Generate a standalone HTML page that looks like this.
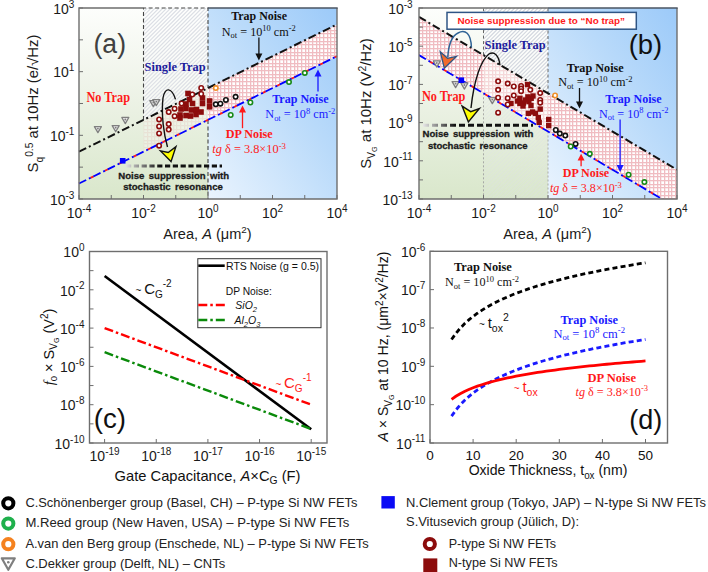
<!DOCTYPE html><html><head><meta charset="utf-8"><title>Noise figure</title>
<style>html,body{margin:0;padding:0;background:#fff;width:708px;height:572px;overflow:hidden}svg{display:block}</style></head><body>
<svg width="708" height="572" viewBox="0 0 708 572">
<defs>
<linearGradient id="gA" x1="0" y1="0" x2="0" y2="1"><stop offset="0" stop-color="#fdfefc"/><stop offset="0.35" stop-color="#f1f5ec"/><stop offset="1" stop-color="#d9e7cb"/></linearGradient>
<linearGradient id="gB" x1="0" y1="1" x2="1" y2="0"><stop offset="0" stop-color="#eaf4fe"/><stop offset="0.6" stop-color="#b9dafa"/><stop offset="1" stop-color="#9ccaf9"/></linearGradient>
<pattern id="pk" width="11" height="11" patternUnits="userSpaceOnUse"><rect width="11" height="11" fill="#fff"/><rect x="1" y="0" width="0.6" height="11" fill="#f8dcdf"/><rect x="0" y="1" width="11" height="0.6" fill="#f8dcdf"/><rect x="5" y="0" width="0.6" height="11" fill="#f8dcdf"/><rect x="0" y="5" width="11" height="0.6" fill="#f8dcdf"/><rect x="9" y="0" width="0.6" height="11" fill="#f8dcdf"/><rect x="0" y="9" width="11" height="0.6" fill="#f8dcdf"/><rect x="0" y="0" width="1" height="11" fill="#f0bcc1"/><rect x="0" y="0" width="11" height="1" fill="#f0bcc1"/><rect x="4" y="0" width="1" height="11" fill="#f0bcc1"/><rect x="0" y="4" width="11" height="1" fill="#f0bcc1"/><rect x="8" y="0" width="1" height="11" fill="#f0bcc1"/><rect x="0" y="8" width="11" height="1" fill="#f0bcc1"/></pattern>
</defs>
<rect x="79" y="8" width="129" height="191" fill="url(#gA)"/>
<rect x="208" y="8" width="129" height="191" fill="url(#gB)"/>
<polygon points="208,88.05 337,24.39 337,56.22 208,119.88" fill="url(#pk)"/>
<polygon points="143.5,119.88 208,88.05 208,119.88 143.5,151.71" fill="url(#pk)" opacity="0.25"/>
<polygon points="143.5,8 208,8 208,88.05 143.5,119.88" fill="#fff" fill-opacity="0.6"/>
<clipPath id="ca1"><polygon points="143.5,8 208,8 208,88.05 143.5,119.88"/></clipPath>
<path d="M-47.5,199 L143.5,8 M-43.6,199 L147.4,8 M-39.7,199 L151.3,8 M-35.8,199 L155.2,8 M-31.9,199 L159.1,8 M-28,199 L163,8 M-24.1,199 L166.9,8 M-20.2,199 L170.8,8 M-16.3,199 L174.7,8 M-12.4,199 L178.6,8 M-8.5,199 L182.5,8 M-4.6,199 L186.4,8 M-0.7,199 L190.3,8 M3.2,199 L194.2,8 M7.1,199 L198.1,8 M11,199 L202,8 M14.9,199 L205.9,8 M18.8,199 L209.8,8 M22.7,199 L213.7,8 M26.6,199 L217.6,8 M30.5,199 L221.5,8 M34.4,199 L225.4,8 M38.3,199 L229.3,8 M42.2,199 L233.2,8 M46.1,199 L237.1,8 M50,199 L241,8 M53.9,199 L244.9,8 M57.8,199 L248.8,8 M61.7,199 L252.7,8 M65.6,199 L256.6,8 M69.5,199 L260.5,8 M73.4,199 L264.4,8 M77.3,199 L268.3,8 M81.2,199 L272.2,8 M85.1,199 L276.1,8 M89,199 L280,8 M92.9,199 L283.9,8 M96.8,199 L287.8,8 M100.7,199 L291.7,8 M104.6,199 L295.6,8 M108.5,199 L299.5,8 M112.4,199 L303.4,8 M116.3,199 L307.3,8 M120.2,199 L311.2,8 M124.1,199 L315.1,8 M128,199 L319,8 M131.9,199 L322.9,8 M135.8,199 L326.8,8 M139.7,199 L330.7,8 M143.6,199 L334.6,8 M147.5,199 L338.5,8 M151.4,199 L342.4,8 M155.3,199 L346.3,8 M159.2,199 L350.2,8 M163.1,199 L354.1,8 M167,199 L358,8 M170.9,199 L361.9,8 M174.8,199 L365.8,8 M178.7,199 L369.7,8 M182.6,199 L373.6,8 M186.5,199 L377.5,8 M190.4,199 L381.4,8 M194.3,199 L385.3,8 M198.2,199 L389.2,8 M202.1,199 L393.1,8 M206,199 L397,8" stroke="#dcdfe5" stroke-width="1.15" fill="none" clip-path="url(#ca1)" opacity="1"/>
<path d="M143.5,119.88 V8 H208 V88.05 M208,119.88 V199" fill="none" stroke="#444" stroke-width="1.1" stroke-dasharray="4,2.5"/>
<line x1="79" y1="151.71" x2="337" y2="24.39" stroke="#111" stroke-width="2" stroke-dasharray="8,3,2,3"/>
<line x1="79" y1="183.54" x2="337" y2="56.22" stroke="#ff1a1a" stroke-width="1.8" stroke-dasharray="3.5,12.5" stroke-dashoffset="3.2"/>
<line x1="79" y1="183.54" x2="337" y2="56.22" stroke="#0000ff" stroke-width="1.8" stroke-dasharray="8,3,2,3"/>
<polygon points="94.4,126.57 101.4,126.57 97.9,132.66" fill="#e6e6e6" stroke="#7f7f7f" stroke-width="1.3" stroke-linejoin="round"/>
<circle cx="97.9" cy="128.6" r="0.9" fill="#7f7f7f"/>
<polygon points="112.2,125.67 119.2,125.67 115.7,131.76" fill="#e6e6e6" stroke="#7f7f7f" stroke-width="1.3" stroke-linejoin="round"/>
<circle cx="115.7" cy="127.7" r="0.9" fill="#7f7f7f"/>
<polygon points="121.8,117.47 128.8,117.47 125.3,123.56" fill="#e6e6e6" stroke="#7f7f7f" stroke-width="1.3" stroke-linejoin="round"/>
<circle cx="125.3" cy="119.5" r="0.9" fill="#7f7f7f"/>
<polygon points="149.8,100.57 156.8,100.57 153.3,106.66" fill="#e6e6e6" stroke="#7f7f7f" stroke-width="1.3" stroke-linejoin="round"/>
<circle cx="153.3" cy="102.6" r="0.9" fill="#7f7f7f"/>
<polygon points="152.8,99.57 159.8,99.57 156.3,105.66" fill="#e6e6e6" stroke="#7f7f7f" stroke-width="1.3" stroke-linejoin="round"/>
<circle cx="156.3" cy="101.6" r="0.9" fill="#7f7f7f"/>
<rect x="119.9" y="158" width="5.6" height="5.6" fill="#0000ff"/>
<rect x="185.2" y="90.7" width="5.6" height="5.6" fill="#8c0c0c"/>
<rect x="186.7" y="96.7" width="5.6" height="5.6" fill="#8c0c0c"/>
<rect x="189.7" y="100.7" width="5.6" height="5.6" fill="#8c0c0c"/>
<rect x="183.2" y="101.2" width="5.6" height="5.6" fill="#8c0c0c"/>
<rect x="178.2" y="106.2" width="5.6" height="5.6" fill="#8c0c0c"/>
<rect x="183.2" y="105.7" width="5.6" height="5.6" fill="#8c0c0c"/>
<rect x="188.7" y="107.2" width="5.6" height="5.6" fill="#8c0c0c"/>
<rect x="193.7" y="106.7" width="5.6" height="5.6" fill="#8c0c0c"/>
<rect x="198.2" y="109.2" width="5.6" height="5.6" fill="#8c0c0c"/>
<rect x="177.2" y="112.2" width="5.6" height="5.6" fill="#8c0c0c"/>
<rect x="177.2" y="115.2" width="5.6" height="5.6" fill="#8c0c0c"/>
<rect x="183.2" y="112.7" width="5.6" height="5.6" fill="#8c0c0c"/>
<rect x="187.7" y="113.2" width="5.6" height="5.6" fill="#8c0c0c"/>
<rect x="193.2" y="111.7" width="5.6" height="5.6" fill="#8c0c0c"/>
<rect x="199.7" y="95.2" width="5.6" height="5.6" fill="#8c0c0c"/>
<rect x="199.7" y="100.7" width="5.6" height="5.6" fill="#8c0c0c"/>
<rect x="206.8" y="98.2" width="5.6" height="5.6" fill="#8c0c0c"/>
<rect x="206.8" y="104" width="5.6" height="5.6" fill="#8c0c0c"/>
<circle cx="159.1" cy="119.4" r="2.2" fill="#fff" stroke="#8c0c0c" stroke-width="1.6"/>
<circle cx="159.1" cy="126.4" r="2.2" fill="#fff" stroke="#8c0c0c" stroke-width="1.6"/>
<circle cx="159.1" cy="133.4" r="2.2" fill="#fff" stroke="#8c0c0c" stroke-width="1.6"/>
<circle cx="159.1" cy="145.7" r="2.2" fill="#fff" stroke="#8c0c0c" stroke-width="1.6"/>
<circle cx="168.7" cy="112.1" r="2.2" fill="#fff" stroke="#8c0c0c" stroke-width="1.6"/>
<circle cx="168.7" cy="124.1" r="2.2" fill="#fff" stroke="#8c0c0c" stroke-width="1.6"/>
<circle cx="168.7" cy="129.6" r="2.2" fill="#fff" stroke="#8c0c0c" stroke-width="1.6"/>
<circle cx="174.6" cy="108.7" r="2.2" fill="#fff" stroke="#8c0c0c" stroke-width="1.6"/>
<circle cx="174.6" cy="116.2" r="2.2" fill="#fff" stroke="#8c0c0c" stroke-width="1.6"/>
<circle cx="181.6" cy="103.5" r="2.2" fill="#fff" stroke="#8c0c0c" stroke-width="1.6"/>
<circle cx="192.3" cy="94.5" r="2.2" fill="#fff" stroke="#8c0c0c" stroke-width="1.6"/>
<circle cx="201.2" cy="87.9" r="2.2" fill="#fff" stroke="#8c0c0c" stroke-width="1.6"/>
<circle cx="201.2" cy="94" r="2.2" fill="#fff" stroke="#8c0c0c" stroke-width="1.6"/>
<circle cx="215.8" cy="88.1" r="2.2" fill="#fff" stroke="#f0922c" stroke-width="1.6"/>
<circle cx="215.8" cy="104.3" r="2.2" fill="#fff" stroke="#111" stroke-width="1.6"/>
<circle cx="220.4" cy="103.7" r="2.2" fill="#fff" stroke="#111" stroke-width="1.6"/>
<circle cx="225.9" cy="99.9" r="2.2" fill="#fff" stroke="#111" stroke-width="1.6"/>
<circle cx="235.6" cy="96.8" r="2.2" fill="#fff" stroke="#111" stroke-width="1.6"/>
<circle cx="230.7" cy="115" r="2.2" fill="#fff" stroke="#178a17" stroke-width="1.6"/>
<circle cx="250.4" cy="102.5" r="2.2" fill="#fff" stroke="#178a17" stroke-width="1.6"/>
<circle cx="289" cy="82.1" r="2.2" fill="#fff" stroke="#178a17" stroke-width="1.6"/>
<circle cx="304.8" cy="72.9" r="2.2" fill="#fff" stroke="#178a17" stroke-width="1.6"/>
<linearGradient id="gd" x1="125" y1="0" x2="160" y2="0" gradientUnits="userSpaceOnUse"><stop offset="0" stop-color="#e8e8e8"/><stop offset="1" stop-color="#111"/></linearGradient>
<line x1="126" y1="166" x2="222" y2="166" stroke="url(#gd)" stroke-width="2.9" stroke-dasharray="5.2,2.6"/>
<path d="M175.5,99.4 C172,88 165,86 163,98 C161,115 164,135 167.5,147" fill="none" stroke="#111" stroke-width="1.4"/>
<path d="M171,161.6 L160.5,150.9 L168.2,152.5 L175.9,146.7 Z" fill="#ffff00" stroke="#111" stroke-width="1.4" stroke-linejoin="miter"/>
<text x="93.5" y="53.2" font-family='"Liberation Sans", sans-serif' font-size="27" font-weight="normal" font-style="normal" fill="#404040" text-anchor="start" textLength="32.5" lengthAdjust="spacingAndGlyphs" >(a)</text>
<text x="144.6" y="71.2" font-family='"Liberation Serif", serif' font-size="12.5" font-weight="bold" font-style="normal" fill="#1c1c9c" text-anchor="start" textLength="61" lengthAdjust="spacingAndGlyphs" >Single Trap</text>
<text x="86.5" y="101.6" font-family='"Liberation Serif", serif' font-size="14.5" font-weight="bold" font-style="normal" fill="#ff1a1a" text-anchor="start" textLength="43.5" lengthAdjust="spacingAndGlyphs" >No Trap</text>
<text x="231.2" y="19.8" font-family='"Liberation Serif", serif' font-size="12.5" font-weight="bold" font-style="normal" fill="#111" text-anchor="start" textLength="55.8" lengthAdjust="spacingAndGlyphs" >Trap Noise</text>
<text x="221.8" y="35.6" font-family='"Liberation Serif", serif' font-size="13" font-weight="normal" font-style="normal" fill="#111" text-anchor="start" textLength="74" lengthAdjust="spacingAndGlyphs" >N<tspan font-size="9" dy="2.5">ot</tspan><tspan dy="-2.5"> = 10</tspan><tspan font-size="9" dy="-4.5">10</tspan><tspan dy="4.5"> cm</tspan><tspan font-size="9" dy="-4.5">-2</tspan></text>
<line x1="258.9" y1="37.6" x2="258.9" y2="55" stroke="#111" stroke-width="1.3" />
<path d="M255.4,53.5 L258.9,60.5 L262.4,53.5 Z" fill="#111"/>
<text x="272.2" y="103.1" font-family='"Liberation Serif", serif' font-size="12.5" font-weight="bold" font-style="normal" fill="#1a1aff" text-anchor="start" textLength="56.3" lengthAdjust="spacingAndGlyphs" >Trap Noise</text>
<text x="265.3" y="118.3" font-family='"Liberation Serif", serif' font-size="13" font-weight="normal" font-style="normal" fill="#1a1aff" text-anchor="start" textLength="70" lengthAdjust="spacingAndGlyphs" >N<tspan font-size="9" dy="2.5">ot</tspan><tspan dy="-2.5"> = 10</tspan><tspan font-size="9" dy="-4.5">8</tspan><tspan dy="4.5"> cm</tspan><tspan font-size="9" dy="-4.5">-2</tspan></text>
<line x1="318" y1="91.6" x2="318" y2="75" stroke="#1a1aff" stroke-width="1.3" />
<path d="M314.5,76.5 L318,69.5 L321.5,76.5 Z" fill="#1a1aff"/>
<text x="225.7" y="138.1" font-family='"Liberation Serif", serif' font-size="12.5" font-weight="bold" font-style="normal" fill="#ff1a1a" text-anchor="start" textLength="47" lengthAdjust="spacingAndGlyphs" >DP Noise</text>
<text x="212.3" y="153" font-family='"Liberation Serif", serif' font-size="12" font-weight="normal" font-style="normal" fill="#ff1a1a" text-anchor="start" textLength="73.7" lengthAdjust="spacingAndGlyphs" ><tspan font-style="italic">tg</tspan> δ = 3.8×10<tspan font-size="8.5" dy="-4.5">-3</tspan></text>
<line x1="242.5" y1="128.2" x2="242.5" y2="111" stroke="#ff1a1a" stroke-width="1.3" />
<path d="M239,112.5 L242.5,105.5 L246,112.5 Z" fill="#ff1a1a"/>
<text x="118.3" y="178.9" font-family='"Liberation Sans", sans-serif' font-size="9.6" font-weight="bold" font-style="normal" fill="#1a1a1a" text-anchor="start" word-spacing="1.6" stroke="#1a1a1a" stroke-width="0.3">Noise suppression with</text>
<text x="123.2" y="190.3" font-family='"Liberation Sans", sans-serif' font-size="9.6" font-weight="bold" font-style="normal" fill="#1a1a1a" text-anchor="start" word-spacing="1.6" stroke="#1a1a1a" stroke-width="0.3">stochastic resonance</text>
<path d="M143.5,8 H79 V199 H337 V8" fill="none" stroke="#6e6e6e" stroke-width="1.4"/>
<line x1="208" y1="8" x2="337.7" y2="8" stroke="#4a5562" stroke-width="1.5"/>
<line x1="79" y1="198.98" x2="83" y2="198.98" stroke="#6e6e6e" stroke-width="1" />
<line x1="79" y1="167.15" x2="83" y2="167.15" stroke="#6e6e6e" stroke-width="1" />
<line x1="79" y1="135.32" x2="83" y2="135.32" stroke="#6e6e6e" stroke-width="1" />
<line x1="79" y1="103.49" x2="83" y2="103.49" stroke="#6e6e6e" stroke-width="1" />
<line x1="79" y1="71.66" x2="83" y2="71.66" stroke="#6e6e6e" stroke-width="1" />
<line x1="79" y1="39.83" x2="83" y2="39.83" stroke="#6e6e6e" stroke-width="1" />
<line x1="79" y1="8" x2="83" y2="8" stroke="#6e6e6e" stroke-width="1" />
<line x1="79" y1="199" x2="79" y2="195" stroke="#6e6e6e" stroke-width="1" />
<line x1="111.25" y1="199" x2="111.25" y2="195" stroke="#6e6e6e" stroke-width="1" />
<line x1="143.5" y1="199" x2="143.5" y2="195" stroke="#6e6e6e" stroke-width="1" />
<line x1="175.75" y1="199" x2="175.75" y2="195" stroke="#6e6e6e" stroke-width="1" />
<line x1="208" y1="199" x2="208" y2="195" stroke="#6e6e6e" stroke-width="1" />
<line x1="240.25" y1="199" x2="240.25" y2="195" stroke="#6e6e6e" stroke-width="1" />
<line x1="272.5" y1="199" x2="272.5" y2="195" stroke="#6e6e6e" stroke-width="1" />
<line x1="304.75" y1="199" x2="304.75" y2="195" stroke="#6e6e6e" stroke-width="1" />
<line x1="337" y1="199" x2="337" y2="195" stroke="#6e6e6e" stroke-width="1" />
<text x="74.4" y="13.7" font-family='"Liberation Sans", sans-serif' font-size="14" font-weight="normal" font-style="normal" fill="#1a1a1a" text-anchor="end" textLength="21.13" lengthAdjust="spacingAndGlyphs" >10<tspan font-size="10" dy="-6.02">3</tspan></text>
<text x="74.4" y="77.36" font-family='"Liberation Sans", sans-serif' font-size="14" font-weight="normal" font-style="normal" fill="#1a1a1a" text-anchor="end" textLength="21.13" lengthAdjust="spacingAndGlyphs" >10<tspan font-size="10" dy="-6.02">1</tspan></text>
<text x="74.4" y="141.02" font-family='"Liberation Sans", sans-serif' font-size="14" font-weight="normal" font-style="normal" fill="#1a1a1a" text-anchor="end" textLength="24.46" lengthAdjust="spacingAndGlyphs" >10<tspan font-size="10" dy="-6.02">-1</tspan></text>
<text x="74.4" y="204.68" font-family='"Liberation Sans", sans-serif' font-size="14" font-weight="normal" font-style="normal" fill="#1a1a1a" text-anchor="end" textLength="24.46" lengthAdjust="spacingAndGlyphs" >10<tspan font-size="10" dy="-6.02">-3</tspan></text>
<text x="79" y="218.1" font-family='"Liberation Sans", sans-serif' font-size="14" font-weight="normal" font-style="normal" fill="#1a1a1a" text-anchor="middle" textLength="24.46" lengthAdjust="spacingAndGlyphs" >10<tspan font-size="10" dy="-6.02">-4</tspan></text>
<text x="143.5" y="218.1" font-family='"Liberation Sans", sans-serif' font-size="14" font-weight="normal" font-style="normal" fill="#1a1a1a" text-anchor="middle" textLength="24.46" lengthAdjust="spacingAndGlyphs" >10<tspan font-size="10" dy="-6.02">-2</tspan></text>
<text x="208" y="218.1" font-family='"Liberation Sans", sans-serif' font-size="14" font-weight="normal" font-style="normal" fill="#1a1a1a" text-anchor="middle" textLength="21.13" lengthAdjust="spacingAndGlyphs" >10<tspan font-size="10" dy="-6.02">0</tspan></text>
<text x="272.5" y="218.1" font-family='"Liberation Sans", sans-serif' font-size="14" font-weight="normal" font-style="normal" fill="#1a1a1a" text-anchor="middle" textLength="21.13" lengthAdjust="spacingAndGlyphs" >10<tspan font-size="10" dy="-6.02">2</tspan></text>
<text x="337" y="218.1" font-family='"Liberation Sans", sans-serif' font-size="14" font-weight="normal" font-style="normal" fill="#1a1a1a" text-anchor="middle" textLength="21.13" lengthAdjust="spacingAndGlyphs" >10<tspan font-size="10" dy="-6.02">4</tspan></text>
<text x="207.5" y="238.7" font-family='"Liberation Sans", sans-serif' font-size="14" font-weight="normal" font-style="normal" fill="#1a1a1a" text-anchor="middle" textLength="88.5" lengthAdjust="spacingAndGlyphs" >Area, <tspan font-style="italic">A</tspan> (μm<tspan font-size="9.5" dy="-5.5">2</tspan><tspan dy="5.5">)</tspan></text>
<text transform="translate(37.6,103.5) rotate(-90)" font-family='"Liberation Sans", sans-serif' font-size="14.5" fill="#1a1a1a" text-anchor="middle" textLength="138" lengthAdjust="spacingAndGlyphs">S<tspan font-size="10" dy="5.5">q</tspan><tspan font-size="10" dy="-10.5">0.5</tspan><tspan dy="5"> at 10Hz (e/√Hz)</tspan></text>
<clipPath id="cb"><rect x="419" y="8" width="258" height="191"/></clipPath>
<g clip-path="url(#cb)">
<rect x="419" y="8" width="129" height="191" fill="url(#gA)"/>
<rect x="548" y="8" width="129" height="191" fill="url(#gB)"/>
<polygon points="483.5,8 548,8 548,93.3 483.5,55.1" fill="#fff" fill-opacity="0.7"/>
<clipPath id="cb1"><polygon points="483.5,8 548,8 548,93.3 483.5,55.1"/></clipPath>
<path d="M292.5,199 L483.5,8 M296.4,199 L487.4,8 M300.3,199 L491.3,8 M304.2,199 L495.2,8 M308.1,199 L499.1,8 M312,199 L503,8 M315.9,199 L506.9,8 M319.8,199 L510.8,8 M323.7,199 L514.7,8 M327.6,199 L518.6,8 M331.5,199 L522.5,8 M335.4,199 L526.4,8 M339.3,199 L530.3,8 M343.2,199 L534.2,8 M347.1,199 L538.1,8 M351,199 L542,8 M354.9,199 L545.9,8 M358.8,199 L549.8,8 M362.7,199 L553.7,8 M366.6,199 L557.6,8 M370.5,199 L561.5,8 M374.4,199 L565.4,8 M378.3,199 L569.3,8 M382.2,199 L573.2,8 M386.1,199 L577.1,8 M390,199 L581,8 M393.9,199 L584.9,8 M397.8,199 L588.8,8 M401.7,199 L592.7,8 M405.6,199 L596.6,8 M409.5,199 L600.5,8 M413.4,199 L604.4,8 M417.3,199 L608.3,8 M421.2,199 L612.2,8 M425.1,199 L616.1,8 M429,199 L620,8 M432.9,199 L623.9,8 M436.8,199 L627.8,8 M440.7,199 L631.7,8 M444.6,199 L635.6,8 M448.5,199 L639.5,8 M452.4,199 L643.4,8 M456.3,199 L647.3,8 M460.2,199 L651.2,8 M464.1,199 L655.1,8 M468,199 L659,8 M471.9,199 L662.9,8 M475.8,199 L666.8,8 M479.7,199 L670.7,8 M483.6,199 L674.6,8 M487.5,199 L678.5,8 M491.4,199 L682.4,8 M495.3,199 L686.3,8 M499.2,199 L690.2,8 M503.1,199 L694.1,8 M507,199 L698,8 M510.9,199 L701.9,8 M514.8,199 L705.8,8 M518.7,199 L709.7,8 M522.6,199 L713.6,8 M526.5,199 L717.5,8 M530.4,199 L721.4,8 M534.3,199 L725.3,8 M538.2,199 L729.2,8 M542.1,199 L733.1,8 M546,199 L737,8" stroke="#d2d6de" stroke-width="1.15" fill="none" clip-path="url(#cb1)" opacity="1"/>
<clipPath id="cb2"><polygon points="483.5,55.1 548,93.3 548,199 483.5,199"/></clipPath>
<path d="M292.5,199 L483.5,8 M296.4,199 L487.4,8 M300.3,199 L491.3,8 M304.2,199 L495.2,8 M308.1,199 L499.1,8 M312,199 L503,8 M315.9,199 L506.9,8 M319.8,199 L510.8,8 M323.7,199 L514.7,8 M327.6,199 L518.6,8 M331.5,199 L522.5,8 M335.4,199 L526.4,8 M339.3,199 L530.3,8 M343.2,199 L534.2,8 M347.1,199 L538.1,8 M351,199 L542,8 M354.9,199 L545.9,8 M358.8,199 L549.8,8 M362.7,199 L553.7,8 M366.6,199 L557.6,8 M370.5,199 L561.5,8 M374.4,199 L565.4,8 M378.3,199 L569.3,8 M382.2,199 L573.2,8 M386.1,199 L577.1,8 M390,199 L581,8 M393.9,199 L584.9,8 M397.8,199 L588.8,8 M401.7,199 L592.7,8 M405.6,199 L596.6,8 M409.5,199 L600.5,8 M413.4,199 L604.4,8 M417.3,199 L608.3,8 M421.2,199 L612.2,8 M425.1,199 L616.1,8 M429,199 L620,8 M432.9,199 L623.9,8 M436.8,199 L627.8,8 M440.7,199 L631.7,8 M444.6,199 L635.6,8 M448.5,199 L639.5,8 M452.4,199 L643.4,8 M456.3,199 L647.3,8 M460.2,199 L651.2,8 M464.1,199 L655.1,8 M468,199 L659,8 M471.9,199 L662.9,8 M475.8,199 L666.8,8 M479.7,199 L670.7,8 M483.6,199 L674.6,8 M487.5,199 L678.5,8 M491.4,199 L682.4,8 M495.3,199 L686.3,8 M499.2,199 L690.2,8 M503.1,199 L694.1,8 M507,199 L698,8 M510.9,199 L701.9,8 M514.8,199 L705.8,8 M518.7,199 L709.7,8 M522.6,199 L713.6,8 M526.5,199 L717.5,8 M530.4,199 L721.4,8 M534.3,199 L725.3,8 M538.2,199 L729.2,8 M542.1,199 L733.1,8 M546,199 L737,8" stroke="#dcdfe5" stroke-width="1.15" fill="none" clip-path="url(#cb2)" opacity="0.35"/>
<polygon points="419,16.9 683.45,173.52 683.45,211.72 419,55.1" fill="url(#pk)"/>
<polygon points="483.5,55.1 548,93.3 548,131.5 483.5,93.3" fill="#fbfbf6" fill-opacity="0.45"/>
<path d="M483.5,55.1 V8.5 M548,8.5 V93.3" fill="none" stroke="#666" stroke-width="1" stroke-dasharray="3,2.5"/>
<line x1="548" y1="131.5" x2="548" y2="199" stroke="#999" stroke-width="0.8" stroke-dasharray="2,2"/>
<line x1="483.5" y1="93.3" x2="483.5" y2="199" stroke="#999" stroke-width="0.8" stroke-dasharray="2,2"/>
<line x1="419" y1="16.9" x2="677" y2="169.7" stroke="#111" stroke-width="2" stroke-dasharray="8,3,2,3"/>
<line x1="419" y1="55.1" x2="677" y2="207.9" stroke="#ff1a1a" stroke-width="1.8" stroke-dasharray="3.5,12.5" stroke-dashoffset="3.2"/>
<line x1="419" y1="55.1" x2="677" y2="207.9" stroke="#0000ff" stroke-width="1.8" stroke-dasharray="8,3,2,3"/>
</g>
<linearGradient id="gd2" x1="423" y1="0" x2="455" y2="0" gradientUnits="userSpaceOnUse"><stop offset="0" stop-color="#e8e8e8"/><stop offset="1" stop-color="#111"/></linearGradient>
<line x1="423" y1="125.2" x2="533" y2="125.2" stroke="url(#gd2)" stroke-width="2.9" stroke-dasharray="6,3"/>
<polygon points="433.3,60.97 440.3,60.97 436.8,67.06" fill="#e6e6e6" stroke="#7f7f7f" stroke-width="1.3" stroke-linejoin="round"/>
<circle cx="436.8" cy="63" r="0.9" fill="#7f7f7f"/>
<polygon points="452.1,81.57 459.1,81.57 455.6,87.66" fill="#e6e6e6" stroke="#7f7f7f" stroke-width="1.3" stroke-linejoin="round"/>
<circle cx="455.6" cy="83.6" r="0.9" fill="#7f7f7f"/>
<polygon points="460.9,82.97 467.9,82.97 464.4,89.06" fill="#e6e6e6" stroke="#7f7f7f" stroke-width="1.3" stroke-linejoin="round"/>
<circle cx="464.4" cy="85" r="0.9" fill="#7f7f7f"/>
<polygon points="488.8,97.57 495.8,97.57 492.3,103.66" fill="#e6e6e6" stroke="#7f7f7f" stroke-width="1.3" stroke-linejoin="round"/>
<circle cx="492.3" cy="99.6" r="0.9" fill="#7f7f7f"/>
<rect x="458.5" y="77.4" width="5.6" height="5.6" fill="#0000ff"/>
<rect x="524.8" y="81.9" width="5.4" height="5.4" fill="#8c0c0c"/>
<rect x="517.2" y="95.6" width="5.4" height="5.4" fill="#8c0c0c"/>
<rect x="517.2" y="100.8" width="5.4" height="5.4" fill="#8c0c0c"/>
<rect x="520.7" y="100.3" width="5.4" height="5.4" fill="#8c0c0c"/>
<rect x="525.2" y="94.2" width="5.4" height="5.4" fill="#8c0c0c"/>
<rect x="526.2" y="98.9" width="5.4" height="5.4" fill="#8c0c0c"/>
<rect x="528.5" y="95.6" width="5.4" height="5.4" fill="#8c0c0c"/>
<rect x="525.7" y="110.7" width="5.4" height="5.4" fill="#8c0c0c"/>
<rect x="529.9" y="109.3" width="5.4" height="5.4" fill="#8c0c0c"/>
<rect x="532.8" y="110.7" width="5.4" height="5.4" fill="#8c0c0c"/>
<rect x="537.5" y="106.4" width="5.4" height="5.4" fill="#8c0c0c"/>
<rect x="535.6" y="114.9" width="5.4" height="5.4" fill="#8c0c0c"/>
<rect x="536.5" y="119.6" width="5.4" height="5.4" fill="#8c0c0c"/>
<rect x="546" y="116.8" width="5.4" height="5.4" fill="#8c0c0c"/>
<rect x="546" y="122.9" width="5.4" height="5.4" fill="#8c0c0c"/>
<rect x="508.3" y="100.8" width="5.4" height="5.4" fill="#8c0c0c"/>
<rect x="514.8" y="98.3" width="5.4" height="5.4" fill="#8c0c0c"/>
<rect x="520.3" y="103.3" width="5.4" height="5.4" fill="#8c0c0c"/>
<rect x="528.3" y="102.8" width="5.4" height="5.4" fill="#8c0c0c"/>
<rect x="530.3" y="93.3" width="5.4" height="5.4" fill="#8c0c0c"/>
<rect x="522.8" y="97.3" width="5.4" height="5.4" fill="#8c0c0c"/>
<circle cx="498.1" cy="81.3" r="2.2" fill="#fff" stroke="#8c0c0c" stroke-width="1.6"/>
<circle cx="498.1" cy="89.8" r="2.2" fill="#fff" stroke="#8c0c0c" stroke-width="1.6"/>
<circle cx="498.1" cy="97.7" r="2.2" fill="#fff" stroke="#8c0c0c" stroke-width="1.6"/>
<circle cx="498.1" cy="112.7" r="2.2" fill="#fff" stroke="#8c0c0c" stroke-width="1.6"/>
<circle cx="507.7" cy="83.6" r="2.2" fill="#fff" stroke="#8c0c0c" stroke-width="1.6"/>
<circle cx="507.7" cy="98.2" r="2.2" fill="#fff" stroke="#8c0c0c" stroke-width="1.6"/>
<circle cx="507.7" cy="104.5" r="2.2" fill="#fff" stroke="#8c0c0c" stroke-width="1.6"/>
<circle cx="513.8" cy="86.5" r="2.2" fill="#fff" stroke="#8c0c0c" stroke-width="1.6"/>
<circle cx="513.8" cy="95.5" r="2.2" fill="#fff" stroke="#8c0c0c" stroke-width="1.6"/>
<circle cx="521.1" cy="86" r="2.2" fill="#fff" stroke="#8c0c0c" stroke-width="1.6"/>
<circle cx="521.1" cy="88.6" r="2.2" fill="#fff" stroke="#8c0c0c" stroke-width="1.6"/>
<circle cx="521.1" cy="91.2" r="2.2" fill="#fff" stroke="#8c0c0c" stroke-width="1.6"/>
<circle cx="530.3" cy="89.8" r="2.2" fill="#fff" stroke="#8c0c0c" stroke-width="1.6"/>
<circle cx="540.2" cy="93.1" r="2.2" fill="#fff" stroke="#8c0c0c" stroke-width="1.6"/>
<circle cx="540.2" cy="99.9" r="2.2" fill="#fff" stroke="#8c0c0c" stroke-width="1.6"/>
<circle cx="540.2" cy="102.7" r="2.2" fill="#fff" stroke="#8c0c0c" stroke-width="1.6"/>
<circle cx="555.1" cy="95.5" r="2.2" fill="#fff" stroke="#f0922c" stroke-width="1.6"/>
<circle cx="555.8" cy="130" r="2.2" fill="#fff" stroke="#111" stroke-width="1.6"/>
<circle cx="559.8" cy="133.6" r="2.2" fill="#fff" stroke="#111" stroke-width="1.6"/>
<circle cx="565.3" cy="135.6" r="2.2" fill="#fff" stroke="#111" stroke-width="1.6"/>
<circle cx="575.6" cy="143.9" r="2.2" fill="#fff" stroke="#111" stroke-width="1.6"/>
<circle cx="570.7" cy="146.5" r="2.2" fill="#fff" stroke="#178a17" stroke-width="1.6"/>
<circle cx="589.8" cy="153.8" r="2.2" fill="#fff" stroke="#178a17" stroke-width="1.6"/>
<circle cx="628.6" cy="174.7" r="2.2" fill="#fff" stroke="#178a17" stroke-width="1.6"/>
<circle cx="644.4" cy="182.1" r="2.2" fill="#fff" stroke="#178a17" stroke-width="1.6"/>
<rect x="447" y="12.4" width="189.3" height="16.8" fill="#fff" stroke="#2f5585" stroke-width="1.5"/>
<text x="541.2" y="23.7" font-family='"Liberation Sans", sans-serif' font-size="9.8" font-weight="bold" font-style="normal" fill="#ff1a1a" text-anchor="middle" textLength="167.5" lengthAdjust="spacingAndGlyphs" >Noise suppression due to “No trap”</text>
<path d="M471.4,47.5 C471,33 465,29 458,33 C452,36 448.5,45 447.8,57" fill="none" stroke="#2f6396" stroke-width="1.5"/>
<path d="M444.3,68.2 L440.3,51.8 L447.6,58.3 L456.5,56.4 Z" fill="#f26a2c" stroke="#2f5585" stroke-width="1.3"/>
<path d="M499.9,65.2 C499,55 494,51 489,54 C481,60 474,80 471,108" fill="none" stroke="#111" stroke-width="1.4"/>
<path d="M468.4,121.9 L462.1,106.1 L470.7,111.7 L479.4,108.5 Z" fill="#ffff00" stroke="#111" stroke-width="1.4"/>
<text x="628.7" y="53.5" font-family='"Liberation Sans", sans-serif' font-size="27" font-weight="normal" font-style="normal" fill="#111" text-anchor="start" textLength="33.5" lengthAdjust="spacingAndGlyphs" >(b)</text>
<text x="484.6" y="49.2" font-family='"Liberation Serif", serif' font-size="12.5" font-weight="bold" font-style="normal" fill="#1c1c9c" text-anchor="start" textLength="61" lengthAdjust="spacingAndGlyphs" >Single Trap</text>
<text x="421.9" y="100.6" font-family='"Liberation Serif", serif' font-size="14.5" font-weight="bold" font-style="normal" fill="#ff1a1a" text-anchor="start" textLength="43.5" lengthAdjust="spacingAndGlyphs" >No Trap</text>
<text x="566.7" y="72.4" font-family='"Liberation Serif", serif' font-size="12.5" font-weight="bold" font-style="normal" fill="#111" text-anchor="start" textLength="57" lengthAdjust="spacingAndGlyphs" >Trap Noise</text>
<text x="558.2" y="86.2" font-family='"Liberation Serif", serif' font-size="13" font-weight="normal" font-style="normal" fill="#111" text-anchor="start" textLength="74.3" lengthAdjust="spacingAndGlyphs" >N<tspan font-size="9" dy="2.5">ot</tspan><tspan dy="-2.5"> = 10</tspan><tspan font-size="9" dy="-4.5">10</tspan><tspan dy="4.5"> cm</tspan><tspan font-size="9" dy="-4.5">-2</tspan></text>
<line x1="579.5" y1="88" x2="579.5" y2="102" stroke="#111" stroke-width="1.3" />
<path d="M576,101.5 L579.5,108.5 L583,101.5 Z" fill="#111"/>
<text x="605.3" y="103" font-family='"Liberation Serif", serif' font-size="12.5" font-weight="bold" font-style="normal" fill="#1a1aff" text-anchor="start" textLength="56.3" lengthAdjust="spacingAndGlyphs" >Trap Noise</text>
<text x="598.9" y="117.9" font-family='"Liberation Serif", serif' font-size="13" font-weight="normal" font-style="normal" fill="#1a1aff" text-anchor="start" textLength="69.6" lengthAdjust="spacingAndGlyphs" >N<tspan font-size="9" dy="2.5">ot</tspan><tspan dy="-2.5"> = 10</tspan><tspan font-size="9" dy="-4.5">8</tspan><tspan dy="4.5"> cm</tspan><tspan font-size="9" dy="-4.5">-2</tspan></text>
<line x1="620.1" y1="119.5" x2="620.1" y2="166" stroke="#1a1aff" stroke-width="1.3" />
<path d="M616.6,165 L620.1,172.2 L623.6,165 Z" fill="#1a1aff"/>
<text x="562.7" y="177.1" font-family='"Liberation Serif", serif' font-size="12.5" font-weight="bold" font-style="normal" fill="#ff1a1a" text-anchor="start" textLength="46.5" lengthAdjust="spacingAndGlyphs" >DP Noise</text>
<text x="549.9" y="192" font-family='"Liberation Serif", serif' font-size="12" font-weight="normal" font-style="normal" fill="#ff1a1a" text-anchor="start" textLength="72" lengthAdjust="spacingAndGlyphs" ><tspan font-style="italic">tg</tspan> δ = 3.8×10<tspan font-size="8.5" dy="-4.5">-3</tspan></text>
<line x1="581.1" y1="166.2" x2="581.1" y2="159" stroke="#ff1a1a" stroke-width="1.3" />
<path d="M577.6,160.5 L581.1,153.8 L584.6,160.5 Z" fill="#ff1a1a"/>
<text x="422.5" y="136.8" font-family='"Liberation Sans", sans-serif' font-size="9.6" font-weight="bold" font-style="normal" fill="#1a1a1a" text-anchor="start" word-spacing="1.6" stroke="#1a1a1a" stroke-width="0.3">Noise suppression with</text>
<text x="427.9" y="148.6" font-family='"Liberation Sans", sans-serif' font-size="9.6" font-weight="bold" font-style="normal" fill="#1a1a1a" text-anchor="start" word-spacing="1.6" stroke="#1a1a1a" stroke-width="0.3">stochastic resonance</text>
<path d="M548,8 H419 V199 H677 V8" fill="none" stroke="#6e6e6e" stroke-width="1.4"/>
<line x1="548" y1="8" x2="677.7" y2="8" stroke="#4a5562" stroke-width="1.5"/>
<line x1="419" y1="199" x2="423" y2="199" stroke="#6e6e6e" stroke-width="1" />
<line x1="419" y1="179.9" x2="423" y2="179.9" stroke="#6e6e6e" stroke-width="1" />
<line x1="419" y1="160.8" x2="423" y2="160.8" stroke="#6e6e6e" stroke-width="1" />
<line x1="419" y1="141.7" x2="423" y2="141.7" stroke="#6e6e6e" stroke-width="1" />
<line x1="419" y1="122.6" x2="423" y2="122.6" stroke="#6e6e6e" stroke-width="1" />
<line x1="419" y1="103.5" x2="423" y2="103.5" stroke="#6e6e6e" stroke-width="1" />
<line x1="419" y1="84.4" x2="423" y2="84.4" stroke="#6e6e6e" stroke-width="1" />
<line x1="419" y1="65.3" x2="423" y2="65.3" stroke="#6e6e6e" stroke-width="1" />
<line x1="419" y1="46.2" x2="423" y2="46.2" stroke="#6e6e6e" stroke-width="1" />
<line x1="419" y1="27.1" x2="423" y2="27.1" stroke="#6e6e6e" stroke-width="1" />
<line x1="419" y1="8" x2="423" y2="8" stroke="#6e6e6e" stroke-width="1" />
<line x1="419" y1="199" x2="419" y2="195" stroke="#6e6e6e" stroke-width="1" />
<line x1="451.25" y1="199" x2="451.25" y2="195" stroke="#6e6e6e" stroke-width="1" />
<line x1="483.5" y1="199" x2="483.5" y2="195" stroke="#6e6e6e" stroke-width="1" />
<line x1="515.75" y1="199" x2="515.75" y2="195" stroke="#6e6e6e" stroke-width="1" />
<line x1="548" y1="199" x2="548" y2="195" stroke="#6e6e6e" stroke-width="1" />
<line x1="580.25" y1="199" x2="580.25" y2="195" stroke="#6e6e6e" stroke-width="1" />
<line x1="612.5" y1="199" x2="612.5" y2="195" stroke="#6e6e6e" stroke-width="1" />
<line x1="644.75" y1="199" x2="644.75" y2="195" stroke="#6e6e6e" stroke-width="1" />
<line x1="677" y1="199" x2="677" y2="195" stroke="#6e6e6e" stroke-width="1" />
<text x="412.6" y="13.7" font-family='"Liberation Sans", sans-serif' font-size="14" font-weight="normal" font-style="normal" fill="#1a1a1a" text-anchor="end" textLength="24.46" lengthAdjust="spacingAndGlyphs" >10<tspan font-size="10" dy="-6.02">-3</tspan></text>
<text x="412.6" y="51.9" font-family='"Liberation Sans", sans-serif' font-size="14" font-weight="normal" font-style="normal" fill="#1a1a1a" text-anchor="end" textLength="24.46" lengthAdjust="spacingAndGlyphs" >10<tspan font-size="10" dy="-6.02">-5</tspan></text>
<text x="412.6" y="90.1" font-family='"Liberation Sans", sans-serif' font-size="14" font-weight="normal" font-style="normal" fill="#1a1a1a" text-anchor="end" textLength="24.46" lengthAdjust="spacingAndGlyphs" >10<tspan font-size="10" dy="-6.02">-7</tspan></text>
<text x="412.6" y="128.3" font-family='"Liberation Sans", sans-serif' font-size="14" font-weight="normal" font-style="normal" fill="#1a1a1a" text-anchor="end" textLength="24.46" lengthAdjust="spacingAndGlyphs" >10<tspan font-size="10" dy="-6.02">-9</tspan></text>
<text x="412.6" y="166.5" font-family='"Liberation Sans", sans-serif' font-size="14" font-weight="normal" font-style="normal" fill="#1a1a1a" text-anchor="end" textLength="29.28" lengthAdjust="spacingAndGlyphs" >10<tspan font-size="10" dy="-6.02">-11</tspan></text>
<text x="412.6" y="204.7" font-family='"Liberation Sans", sans-serif' font-size="14" font-weight="normal" font-style="normal" fill="#1a1a1a" text-anchor="end" textLength="30.02" lengthAdjust="spacingAndGlyphs" >10<tspan font-size="10" dy="-6.02">-13</tspan></text>
<text x="419" y="218.1" font-family='"Liberation Sans", sans-serif' font-size="14" font-weight="normal" font-style="normal" fill="#1a1a1a" text-anchor="middle" textLength="24.46" lengthAdjust="spacingAndGlyphs" >10<tspan font-size="10" dy="-6.02">-4</tspan></text>
<text x="483.5" y="218.1" font-family='"Liberation Sans", sans-serif' font-size="14" font-weight="normal" font-style="normal" fill="#1a1a1a" text-anchor="middle" textLength="24.46" lengthAdjust="spacingAndGlyphs" >10<tspan font-size="10" dy="-6.02">-2</tspan></text>
<text x="548" y="218.1" font-family='"Liberation Sans", sans-serif' font-size="14" font-weight="normal" font-style="normal" fill="#1a1a1a" text-anchor="middle" textLength="21.13" lengthAdjust="spacingAndGlyphs" >10<tspan font-size="10" dy="-6.02">0</tspan></text>
<text x="612.5" y="218.1" font-family='"Liberation Sans", sans-serif' font-size="14" font-weight="normal" font-style="normal" fill="#1a1a1a" text-anchor="middle" textLength="21.13" lengthAdjust="spacingAndGlyphs" >10<tspan font-size="10" dy="-6.02">2</tspan></text>
<text x="677" y="218.1" font-family='"Liberation Sans", sans-serif' font-size="14" font-weight="normal" font-style="normal" fill="#1a1a1a" text-anchor="middle" textLength="21.13" lengthAdjust="spacingAndGlyphs" >10<tspan font-size="10" dy="-6.02">4</tspan></text>
<text x="547.5" y="238.7" font-family='"Liberation Sans", sans-serif' font-size="14" font-weight="normal" font-style="normal" fill="#1a1a1a" text-anchor="middle" textLength="88.5" lengthAdjust="spacingAndGlyphs" >Area, <tspan font-style="italic">A</tspan> (μm<tspan font-size="9.5" dy="-5.5">2</tspan><tspan dy="5.5">)</tspan></text>
<text transform="translate(371.3,103.6) rotate(-90)" font-family='"Liberation Sans", sans-serif' font-size="14.5" fill="#1a1a1a" text-anchor="middle" textLength="130.5" lengthAdjust="spacingAndGlyphs">S<tspan font-size="10" dy="3.5">V</tspan><tspan font-size="7" dy="2">G</tspan><tspan dy="-5.5"> at 10Hz (V</tspan><tspan font-size="10" dy="-5.5">2</tspan><tspan dy="5.5">/Hz)</tspan></text>
<rect x="89.5" y="251.5" width="237.5" height="191.5" fill="#fff" stroke="#6e6e6e" stroke-width="1.4"/>
<line x1="89.5" y1="443" x2="93.5" y2="443" stroke="#6e6e6e" stroke-width="1" />
<line x1="89.5" y1="423.85" x2="93.5" y2="423.85" stroke="#6e6e6e" stroke-width="1" />
<line x1="89.5" y1="404.7" x2="93.5" y2="404.7" stroke="#6e6e6e" stroke-width="1" />
<line x1="89.5" y1="385.55" x2="93.5" y2="385.55" stroke="#6e6e6e" stroke-width="1" />
<line x1="89.5" y1="366.4" x2="93.5" y2="366.4" stroke="#6e6e6e" stroke-width="1" />
<line x1="89.5" y1="347.25" x2="93.5" y2="347.25" stroke="#6e6e6e" stroke-width="1" />
<line x1="89.5" y1="328.1" x2="93.5" y2="328.1" stroke="#6e6e6e" stroke-width="1" />
<line x1="89.5" y1="308.95" x2="93.5" y2="308.95" stroke="#6e6e6e" stroke-width="1" />
<line x1="89.5" y1="289.8" x2="93.5" y2="289.8" stroke="#6e6e6e" stroke-width="1" />
<line x1="89.5" y1="270.65" x2="93.5" y2="270.65" stroke="#6e6e6e" stroke-width="1" />
<line x1="89.5" y1="251.5" x2="93.5" y2="251.5" stroke="#6e6e6e" stroke-width="1" />
<line x1="104.6" y1="443" x2="104.6" y2="439" stroke="#6e6e6e" stroke-width="1" />
<line x1="156.25" y1="443" x2="156.25" y2="439" stroke="#6e6e6e" stroke-width="1" />
<line x1="207.9" y1="443" x2="207.9" y2="439" stroke="#6e6e6e" stroke-width="1" />
<line x1="259.55" y1="443" x2="259.55" y2="439" stroke="#6e6e6e" stroke-width="1" />
<line x1="311.2" y1="443" x2="311.2" y2="439" stroke="#6e6e6e" stroke-width="1" />
<text x="84.5" y="257.2" font-family='"Liberation Sans", sans-serif' font-size="14" font-weight="normal" font-style="normal" fill="#1a1a1a" text-anchor="end" textLength="21.13" lengthAdjust="spacingAndGlyphs" >10<tspan font-size="10" dy="-6.02">0</tspan></text>
<text x="84.5" y="295.5" font-family='"Liberation Sans", sans-serif' font-size="14" font-weight="normal" font-style="normal" fill="#1a1a1a" text-anchor="end" textLength="24.46" lengthAdjust="spacingAndGlyphs" >10<tspan font-size="10" dy="-6.02">-2</tspan></text>
<text x="84.5" y="333.8" font-family='"Liberation Sans", sans-serif' font-size="14" font-weight="normal" font-style="normal" fill="#1a1a1a" text-anchor="end" textLength="24.46" lengthAdjust="spacingAndGlyphs" >10<tspan font-size="10" dy="-6.02">-4</tspan></text>
<text x="84.5" y="372.1" font-family='"Liberation Sans", sans-serif' font-size="14" font-weight="normal" font-style="normal" fill="#1a1a1a" text-anchor="end" textLength="24.46" lengthAdjust="spacingAndGlyphs" >10<tspan font-size="10" dy="-6.02">-6</tspan></text>
<text x="84.5" y="410.4" font-family='"Liberation Sans", sans-serif' font-size="14" font-weight="normal" font-style="normal" fill="#1a1a1a" text-anchor="end" textLength="24.46" lengthAdjust="spacingAndGlyphs" >10<tspan font-size="10" dy="-6.02">-8</tspan></text>
<text x="84.5" y="448.7" font-family='"Liberation Sans", sans-serif' font-size="14" font-weight="normal" font-style="normal" fill="#1a1a1a" text-anchor="end" textLength="30.02" lengthAdjust="spacingAndGlyphs" >10<tspan font-size="10" dy="-6.02">-10</tspan></text>
<text x="104.6" y="460.8" font-family='"Liberation Sans", sans-serif' font-size="14" font-weight="normal" font-style="normal" fill="#1a1a1a" text-anchor="middle" textLength="30.02" lengthAdjust="spacingAndGlyphs" >10<tspan font-size="10" dy="-6.02">-19</tspan></text>
<text x="156.25" y="460.8" font-family='"Liberation Sans", sans-serif' font-size="14" font-weight="normal" font-style="normal" fill="#1a1a1a" text-anchor="middle" textLength="30.02" lengthAdjust="spacingAndGlyphs" >10<tspan font-size="10" dy="-6.02">-18</tspan></text>
<text x="207.9" y="460.8" font-family='"Liberation Sans", sans-serif' font-size="14" font-weight="normal" font-style="normal" fill="#1a1a1a" text-anchor="middle" textLength="30.02" lengthAdjust="spacingAndGlyphs" >10<tspan font-size="10" dy="-6.02">-17</tspan></text>
<text x="259.55" y="460.8" font-family='"Liberation Sans", sans-serif' font-size="14" font-weight="normal" font-style="normal" fill="#1a1a1a" text-anchor="middle" textLength="30.02" lengthAdjust="spacingAndGlyphs" >10<tspan font-size="10" dy="-6.02">-16</tspan></text>
<text x="311.2" y="460.8" font-family='"Liberation Sans", sans-serif' font-size="14" font-weight="normal" font-style="normal" fill="#1a1a1a" text-anchor="middle" textLength="30.02" lengthAdjust="spacingAndGlyphs" >10<tspan font-size="10" dy="-6.02">-15</tspan></text>
<line x1="104.6" y1="276.01" x2="311.2" y2="429.21" stroke="#000" stroke-width="2.6" />
<line x1="104.6" y1="328.1" x2="311.2" y2="404.7" stroke="#ff0000" stroke-width="2.4" stroke-dasharray="9,3,2.5,3"/>
<line x1="104.6" y1="352.23" x2="311.2" y2="429.02" stroke="#0a8a0a" stroke-width="2.4" stroke-dasharray="9,3,2.5,3"/>
<rect x="197.8" y="258.7" width="123.2" height="69" fill="#fff" stroke="#333" stroke-width="1"/>
<line x1="198.3" y1="265.7" x2="224.7" y2="265.7" stroke="#000" stroke-width="2.6" />
<text x="226" y="270" font-family='"Liberation Sans", sans-serif' font-size="11.3" font-weight="normal" font-style="normal" fill="#111" text-anchor="start" textLength="93" lengthAdjust="spacingAndGlyphs" >RTS Noise (g = 0.5)</text>
<text x="225.8" y="295" font-family='"Liberation Sans", sans-serif' font-size="11.3" font-weight="normal" font-style="normal" fill="#111" text-anchor="start" textLength="46" lengthAdjust="spacingAndGlyphs" >DP Noise:</text>
<line x1="198.3" y1="305" x2="225" y2="305" stroke="#ff0000" stroke-width="2.4" stroke-dasharray="9,3,2.5,3"/>
<line x1="198.3" y1="320" x2="225" y2="320" stroke="#0a8a0a" stroke-width="2.4" stroke-dasharray="9,3,2.5,3"/>
<text x="235.3" y="309.3" font-family='"Liberation Sans", sans-serif' font-size="10.5" font-weight="normal" font-style="italic" fill="#111" text-anchor="start" >SiO<tspan font-size="7.5" dy="2.5">2</tspan></text>
<text x="234.5" y="324.3" font-family='"Liberation Sans", sans-serif' font-size="10.5" font-weight="normal" font-style="italic" fill="#111" text-anchor="start" >Al<tspan font-size="7.5" dy="2.5">2</tspan><tspan dy="-2.5">O</tspan><tspan font-size="7.5" dy="2.5">3</tspan></text>
<text x="135.5" y="294" font-family='"Liberation Sans", sans-serif' font-size="15" font-weight="normal" font-style="normal" fill="#111" text-anchor="start" ><tspan font-size="10">~ </tspan>C<tspan font-size="10" dy="4">G</tspan><tspan font-size="10" dy="-11">-2</tspan></text>
<text x="275.4" y="387.5" font-family='"Liberation Sans", sans-serif' font-size="15" font-weight="normal" font-style="normal" fill="#ff1a1a" text-anchor="start" ><tspan font-size="10">~ </tspan>C<tspan font-size="10" dy="4">G</tspan><tspan font-size="10" dy="-11">-1</tspan></text>
<text x="93.8" y="428.2" font-family='"Liberation Sans", sans-serif' font-size="27" font-weight="normal" font-style="normal" fill="#111" text-anchor="start" textLength="32.3" lengthAdjust="spacingAndGlyphs" >(c)</text>
<text x="207.5" y="480.7" font-family='"Liberation Sans", sans-serif' font-size="14.3" font-weight="normal" font-style="normal" fill="#111" text-anchor="middle" textLength="186" lengthAdjust="spacingAndGlyphs" >Gate Capacitance, <tspan font-style="italic">A</tspan>×C<tspan font-size="10" dy="3.5">G</tspan><tspan dy="-3.5"> (F)</tspan></text>
<text transform="translate(53.6,347) rotate(-90)" font-family='"Liberation Sans", sans-serif' font-size="14.5" fill="#111" text-anchor="middle"><tspan font-family='"Liberation Serif", serif' font-style="italic">f</tspan><tspan font-size="9.5" dy="3">0</tspan><tspan dy="-3"> × S</tspan><tspan font-size="10" dy="3.5">V</tspan><tspan font-size="7" dy="2">G</tspan><tspan dy="-5.5"> (V</tspan><tspan font-size="10" dy="-5.5">2</tspan><tspan dy="5.5">)</tspan></text>
<rect x="430" y="251.3" width="237.5" height="191.7" fill="#fff" stroke="#6e6e6e" stroke-width="1.4"/>
<line x1="430" y1="443" x2="434" y2="443" stroke="#6e6e6e" stroke-width="1" />
<line x1="430" y1="404.66" x2="434" y2="404.66" stroke="#6e6e6e" stroke-width="1" />
<line x1="430" y1="366.32" x2="434" y2="366.32" stroke="#6e6e6e" stroke-width="1" />
<line x1="430" y1="327.98" x2="434" y2="327.98" stroke="#6e6e6e" stroke-width="1" />
<line x1="430" y1="289.64" x2="434" y2="289.64" stroke="#6e6e6e" stroke-width="1" />
<line x1="430" y1="251.3" x2="434" y2="251.3" stroke="#6e6e6e" stroke-width="1" />
<line x1="430" y1="443" x2="430" y2="439" stroke="#6e6e6e" stroke-width="1" />
<line x1="473.1" y1="443" x2="473.1" y2="439" stroke="#6e6e6e" stroke-width="1" />
<line x1="516.2" y1="443" x2="516.2" y2="439" stroke="#6e6e6e" stroke-width="1" />
<line x1="559.3" y1="443" x2="559.3" y2="439" stroke="#6e6e6e" stroke-width="1" />
<line x1="602.4" y1="443" x2="602.4" y2="439" stroke="#6e6e6e" stroke-width="1" />
<line x1="645.5" y1="443" x2="645.5" y2="439" stroke="#6e6e6e" stroke-width="1" />
<text x="425.4" y="448.5" font-family='"Liberation Sans", sans-serif' font-size="14" font-weight="normal" font-style="normal" fill="#1a1a1a" text-anchor="end" textLength="29.28" lengthAdjust="spacingAndGlyphs" >10<tspan font-size="10" dy="-6.02">-11</tspan></text>
<text x="425.4" y="410.16" font-family='"Liberation Sans", sans-serif' font-size="14" font-weight="normal" font-style="normal" fill="#1a1a1a" text-anchor="end" textLength="30.02" lengthAdjust="spacingAndGlyphs" >10<tspan font-size="10" dy="-6.02">-10</tspan></text>
<text x="425.4" y="371.82" font-family='"Liberation Sans", sans-serif' font-size="14" font-weight="normal" font-style="normal" fill="#1a1a1a" text-anchor="end" textLength="24.46" lengthAdjust="spacingAndGlyphs" >10<tspan font-size="10" dy="-6.02">-9</tspan></text>
<text x="425.4" y="333.48" font-family='"Liberation Sans", sans-serif' font-size="14" font-weight="normal" font-style="normal" fill="#1a1a1a" text-anchor="end" textLength="24.46" lengthAdjust="spacingAndGlyphs" >10<tspan font-size="10" dy="-6.02">-8</tspan></text>
<text x="425.4" y="295.14" font-family='"Liberation Sans", sans-serif' font-size="14" font-weight="normal" font-style="normal" fill="#1a1a1a" text-anchor="end" textLength="24.46" lengthAdjust="spacingAndGlyphs" >10<tspan font-size="10" dy="-6.02">-7</tspan></text>
<text x="425.4" y="256.8" font-family='"Liberation Sans", sans-serif' font-size="14" font-weight="normal" font-style="normal" fill="#1a1a1a" text-anchor="end" textLength="24.46" lengthAdjust="spacingAndGlyphs" >10<tspan font-size="10" dy="-6.02">-6</tspan></text>
<text x="430" y="460.2" font-family='"Liberation Sans", sans-serif' font-size="13.5" font-weight="normal" font-style="normal" fill="#111" text-anchor="middle" >0</text>
<text x="473.1" y="460.2" font-family='"Liberation Sans", sans-serif' font-size="13.5" font-weight="normal" font-style="normal" fill="#111" text-anchor="middle" >10</text>
<text x="516.2" y="460.2" font-family='"Liberation Sans", sans-serif' font-size="13.5" font-weight="normal" font-style="normal" fill="#111" text-anchor="middle" >20</text>
<text x="559.3" y="460.2" font-family='"Liberation Sans", sans-serif' font-size="13.5" font-weight="normal" font-style="normal" fill="#111" text-anchor="middle" >30</text>
<text x="602.4" y="460.2" font-family='"Liberation Sans", sans-serif' font-size="13.5" font-weight="normal" font-style="normal" fill="#111" text-anchor="middle" >40</text>
<text x="645.5" y="460.2" font-family='"Liberation Sans", sans-serif' font-size="13.5" font-weight="normal" font-style="normal" fill="#111" text-anchor="middle" >50</text>
<polyline points="451.55,339.48 455.86,333.41 460.17,328.28 464.48,323.83 468.79,319.91 473.1,316.4 477.41,313.23 481.72,310.33 486.03,307.66 490.34,305.19 494.65,302.9 498.96,300.75 503.27,298.73 507.58,296.82 511.89,295.02 516.2,293.32 520.51,291.69 524.82,290.14 529.13,288.66 533.44,287.24 537.75,285.88 542.06,284.58 546.37,283.32 550.68,282.11 554.99,280.94 559.3,279.81 563.61,278.72 567.92,277.66 572.23,276.64 576.54,275.65 580.85,274.68 585.16,273.74 589.47,272.83 593.78,271.94 598.09,271.08 602.4,270.23 606.71,269.41 611.02,268.61 615.33,267.82 619.64,267.06 623.95,266.31 628.26,265.58 632.57,264.86 636.88,264.16 641.19,263.47 645.5,262.8" fill="none" stroke="#000" stroke-width="2.8" stroke-dasharray="5,3.2"/>
<polyline points="451.55,416.16 455.86,410.09 460.17,404.96 464.48,400.51 468.79,396.59 473.1,393.08 477.41,389.91 481.72,387.01 486.03,384.34 490.34,381.87 494.65,379.58 498.96,377.43 503.27,375.41 507.58,373.5 511.89,371.7 516.2,370 520.51,368.37 524.82,366.82 529.13,365.34 533.44,363.92 537.75,362.56 542.06,361.26 546.37,360 550.68,358.79 554.99,357.62 559.3,356.49 563.61,355.4 567.92,354.34 572.23,353.32 576.54,352.33 580.85,351.36 585.16,350.42 589.47,349.51 593.78,348.62 598.09,347.76 602.4,346.91 606.71,346.09 611.02,345.29 615.33,344.5 619.64,343.74 623.95,342.99 628.26,342.26 632.57,341.54 636.88,340.84 641.19,340.15 645.5,339.48" fill="none" stroke="#1a1aff" stroke-width="2.8" stroke-dasharray="5,3.2"/>
<polyline points="451.55,399.29 455.86,396.26 460.17,393.69 464.48,391.47 468.79,389.51 473.1,387.75 477.41,386.16 481.72,384.72 486.03,383.38 490.34,382.15 494.65,381 498.96,379.92 503.27,378.92 507.58,377.96 511.89,377.06 516.2,376.21 520.51,375.4 524.82,374.62 529.13,373.88 533.44,373.17 537.75,372.49 542.06,371.84 546.37,371.21 550.68,370.61 554.99,370.02 559.3,369.46 563.61,368.91 567.92,368.38 572.23,367.87 576.54,367.37 580.85,366.89 585.16,366.42 589.47,365.97 593.78,365.52 598.09,365.09 602.4,364.67 606.71,364.26 611.02,363.86 615.33,363.46 619.64,363.08 623.95,362.71 628.26,362.34 632.57,361.98 636.88,361.63 641.19,361.29 645.5,360.95" fill="none" stroke="#ff0000" stroke-width="2.8" />
<text x="453.9" y="271" font-family='"Liberation Serif", serif' font-size="11.5" font-weight="bold" font-style="normal" fill="#111" text-anchor="start" textLength="58" lengthAdjust="spacingAndGlyphs" >Trap Noise</text>
<text x="445" y="286" font-family='"Liberation Serif", serif' font-size="11.5" font-weight="normal" font-style="normal" fill="#111" text-anchor="start" textLength="74" lengthAdjust="spacingAndGlyphs" >N<tspan font-size="8" dy="2.5">ot</tspan><tspan dy="-2.5"> = 10</tspan><tspan font-size="8" dy="-4.5">10</tspan><tspan dy="4.5"> cm</tspan><tspan font-size="8" dy="-4.5">-2</tspan></text>
<text x="479" y="328" font-family='"Liberation Sans", sans-serif' font-size="15" font-weight="normal" font-style="normal" fill="#111" text-anchor="start" ><tspan font-size="10">~ </tspan>t<tspan font-size="10.5" dy="4">ox</tspan><tspan font-size="10.5" dy="-11">2</tspan></text>
<text x="560.6" y="324" font-family='"Liberation Serif", serif' font-size="11.5" font-weight="bold" font-style="normal" fill="#1a1aff" text-anchor="start" textLength="57.4" lengthAdjust="spacingAndGlyphs" >Trap Noise</text>
<text x="553.4" y="337.5" font-family='"Liberation Serif", serif' font-size="11.5" font-weight="normal" font-style="normal" fill="#1a1aff" text-anchor="start" textLength="71.6" lengthAdjust="spacingAndGlyphs" >N<tspan font-size="8" dy="2.5">ot</tspan><tspan dy="-2.5"> = 10</tspan><tspan font-size="8" dy="-4.5">8</tspan><tspan dy="4.5"> cm</tspan><tspan font-size="8" dy="-4.5">-2</tspan></text>
<text x="513.8" y="392" font-family='"Liberation Sans", sans-serif' font-size="15" font-weight="normal" font-style="normal" fill="#ff1a1a" text-anchor="start" ><tspan font-size="10">~ </tspan>t<tspan font-size="10.5" dy="4">ox</tspan></text>
<text x="587.5" y="382" font-family='"Liberation Serif", serif' font-size="11.5" font-weight="bold" font-style="normal" fill="#ff1a1a" text-anchor="start" textLength="48.5" lengthAdjust="spacingAndGlyphs" >DP Noise</text>
<text x="575.5" y="395.5" font-family='"Liberation Serif", serif' font-size="11.5" font-weight="normal" font-style="normal" fill="#ff1a1a" text-anchor="start" textLength="72.5" lengthAdjust="spacingAndGlyphs" ><tspan font-style="italic">tg</tspan> δ = 3.8×10<tspan font-size="8" dy="-4.5">-3</tspan></text>
<text x="629.3" y="429" font-family='"Liberation Sans", sans-serif' font-size="27" font-weight="normal" font-style="normal" fill="#111" text-anchor="start" textLength="33" lengthAdjust="spacingAndGlyphs" >(d)</text>
<text x="548" y="475.2" font-family='"Liberation Sans", sans-serif' font-size="14.3" font-weight="normal" font-style="normal" fill="#111" text-anchor="middle" textLength="158.7" lengthAdjust="spacingAndGlyphs" >Oxide Thickness, t<tspan font-size="10" dy="3.5">ox</tspan><tspan dy="-3.5"> (nm)</tspan></text>
<text transform="translate(388.3,346.5) rotate(-90)" font-family='"Liberation Sans", sans-serif' font-size="14" fill="#111" text-anchor="middle" textLength="190" lengthAdjust="spacingAndGlyphs"><tspan font-style="italic">A</tspan> × S<tspan font-size="10" dy="3.5">V</tspan><tspan font-size="7" dy="2">G</tspan><tspan dy="-5.5"> at 10 Hz, (μm</tspan><tspan font-size="10" dy="-5.5">2</tspan><tspan dy="5.5">×V</tspan><tspan font-size="10" dy="-5.5">2</tspan><tspan dy="5.5">/Hz)</tspan></text>
<circle cx="8.3" cy="503.3" r="5.1" fill="#fff" stroke="#000" stroke-width="4"/>
<text x="25.4" y="507.3" font-family='"Liberation Sans", sans-serif' font-size="13.6" font-weight="normal" font-style="normal" fill="#222" text-anchor="start" textLength="332" lengthAdjust="spacingAndGlyphs" >C.Schönenberger group (Basel, CH) – P-type Si NW FETs</text>
<circle cx="8.3" cy="523.6" r="5.1" fill="#fff" stroke="#1fb04c" stroke-width="4"/>
<text x="25.4" y="527.4" font-family='"Liberation Sans", sans-serif' font-size="13.6" font-weight="normal" font-style="normal" fill="#222" text-anchor="start" textLength="324" lengthAdjust="spacingAndGlyphs" >M.Reed group (New Haven, USA) –  P-type Si NW FETs</text>
<circle cx="8.3" cy="544.2" r="5.1" fill="#fff" stroke="#f5821f" stroke-width="4"/>
<text x="25.4" y="547.6" font-family='"Liberation Sans", sans-serif' font-size="13.6" font-weight="normal" font-style="normal" fill="#222" text-anchor="start" textLength="343.3" lengthAdjust="spacingAndGlyphs" >A.van den Berg group (Enschede, NL) – P-type Si NW FETs</text>
<polygon points="1.8,558.3 14.8,558.3 8.3,569.8" fill="#fff" stroke="#7f7f7f" stroke-width="2.2" stroke-linejoin="round"/>
<circle cx="8.3" cy="562.2" r="1.3" fill="#7f7f7f"/>
<text x="25.4" y="567.6" font-family='"Liberation Sans", sans-serif' font-size="13.6" font-weight="normal" font-style="normal" fill="#222" text-anchor="start" textLength="199.8" lengthAdjust="spacingAndGlyphs" >C.Dekker group (Delft, NL) – CNTs</text>
<rect x="381.4" y="496.1" width="13.4" height="12.4" fill="#0a0af5"/>
<text x="406" y="506.8" font-family='"Liberation Sans", sans-serif' font-size="13.6" font-weight="normal" font-style="normal" fill="#222" text-anchor="start" textLength="300" lengthAdjust="spacingAndGlyphs" >N.Clement group (Tokyo, JAP) – N-type Si NW FETs</text>
<text x="406" y="526.3" font-family='"Liberation Sans", sans-serif' font-size="13.6" font-weight="normal" font-style="normal" fill="#222" text-anchor="start" textLength="173" lengthAdjust="spacingAndGlyphs" >S.Vitusevich group (Jülich, D):</text>
<circle cx="429.8" cy="544" r="5.1" fill="#fff" stroke="#8c0c0c" stroke-width="4"/>
<text x="448.7" y="547.8" font-family='"Liberation Sans", sans-serif' font-size="13.6" font-weight="normal" font-style="normal" fill="#222" text-anchor="start" textLength="107.3" lengthAdjust="spacingAndGlyphs" >P-type Si NW FETs</text>
<rect x="423.3" y="558.4" width="14" height="14" fill="#8c0c0c"/>
<text x="448.7" y="567.2" font-family='"Liberation Sans", sans-serif' font-size="13.6" font-weight="normal" font-style="normal" fill="#222" text-anchor="start" textLength="109" lengthAdjust="spacingAndGlyphs" >N-type Si NW FETs</text>
</svg></body></html>
